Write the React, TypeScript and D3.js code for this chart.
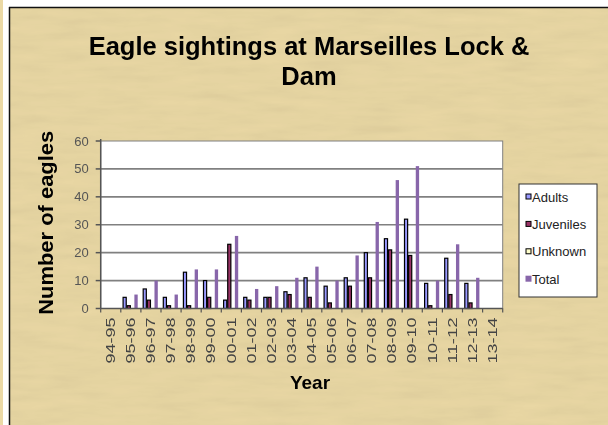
import React from "react";
import * as d3 from "d3";

// season labels along the x axis
const years = [
  "94-95", "95-96", "96-97", "97-98", "98-99", "99-00", "00-01", "01-02", "02-03", "03-04",
  "04-05", "05-06", "06-07", "07-08", "08-09", "09-10", "10-11", "11-12", "12-13", "13-14",
];

const adults = [0, 4, 7, 4, 13, 10, 3, 4, 4, 6, 11, 8, 11, 20, 25, 32, 9, 18, 9, 0];
const juveniles = [0, 1, 3, 1, 1, 4, 23, 3, 4, 5, 4, 2, 8, 11, 21, 19, 1, 5, 2, 0];
const unknown = [0, 0, 0, 0, 0, 0, 0, 0, 0, 0, 0, 0, 0, 0, 0, 0, 0, 0, 0, 0];
const total = [0, 5, 10, 5, 14, 14, 26, 7, 8, 11, 15, 10, 19, 31, 46, 51, 10, 23, 11, 0];

const yTicks = [0, 10, 20, 30, 40, 50, 60];

const seriesNames = ["Adults", "Juveniles", "Unknown", "Total"];
const seriesData = [adults, juveniles, unknown, total];
const seriesFill = ["#9999ff", "#993366", "#ffffcc", "#8866aa"];
const seriesBorder = [true, true, true, false];

const W = 608;
const H = 425;
const plot = { left: 100.7, right: 502.7, top: 141, bottom: 308.5 };
const font = "Arial, 'Liberation Sans', sans-serif";
const paper = "#ebd9a5";

export default function App() {
  const x0 = d3.scaleBand().domain(years).range([plot.left, plot.right]);
  const bw = x0.bandwidth();
  const x1 = d3.scaleBand().domain(seriesNames).range([1.8, bw - 1.8]);
  const y = d3.scaleLinear().domain([0, 60]).range([plot.bottom, plot.top]);

  return (
    <div style={{ position: "absolute", left: 0, top: 0 }}>
      <svg width={W} height={H} style={{ display: "block" }}>
        <defs>
          <filter id="paper" x="0" y="0" width="100%" height="100%">
            <feTurbulence type="fractalNoise" baseFrequency="0.02 0.12" numOctaves="3" seed="7" />
            <feColorMatrix type="saturate" values="0" />
            <feComponentTransfer>
              <feFuncA type="linear" slope="0" intercept="1" />
            </feComponentTransfer>
          </filter>
        </defs>
        <rect x={0} y={0} width={W} height={H} fill="#ffffff" />
        <rect x={0} y={0} width={3} height={H} fill={paper} />
        <rect x={9} y={7} width={W - 9} height={H - 7} fill={paper} />
        <rect
          x={9}
          y={7}
          width={W - 9}
          height={H - 7}
          filter="url(#paper)"
          opacity={0.1}
          style={{ mixBlendMode: "multiply" }}
        />
        <line x1={9.5} y1={7} x2={9.5} y2={H} stroke="#111" strokeWidth={1.5} />
        <line x1={9} y1={7.5} x2={W} y2={7.5} stroke="#111" strokeWidth={1.5} />

        {/* title */}
        <text x={309} y={55} textAnchor="middle" fontFamily={font} fontWeight="bold" fontSize={25.5} fill="#000">
          Eagle sightings at Marseilles Lock &amp;
        </text>
        <text x={309} y={85} textAnchor="middle" fontFamily={font} fontWeight="bold" fontSize={25.5} fill="#000">
          Dam
        </text>

        {/* plot area */}
        <rect
          x={plot.left}
          y={plot.top}
          width={plot.right - plot.left}
          height={plot.bottom - plot.top}
          fill="#ffffff"
          stroke="#808080"
          strokeWidth={1}
        />
        {yTicks.slice(1, -1).map((t) => (
          <line key={t} x1={plot.left} x2={plot.right} y1={y(t)} y2={y(t)} stroke="#808080" strokeWidth={1.6} />
        ))}

        {/* bars */}
        {years.map((yr, i) => (
          <g key={yr} transform={`translate(${x0(yr)},0)`}>
            {seriesNames.map((s, j) => {
              const v = seriesData[j][i];
              if (!v) return null;
              const bx = x1(s)!;
              const w = x1.bandwidth();
              return seriesBorder[j] ? (
                <rect
                  key={s}
                  x={bx + 0.5}
                  y={y(v)}
                  width={w - 1}
                  height={y(0) - y(v)}
                  fill={seriesFill[j]}
                  stroke="#000"
                  strokeWidth={1.2}
                />
              ) : (
                <rect key={s} x={bx - 0.6} y={y(v)} width={w - 0.8} height={y(0) - y(v)} fill={seriesFill[j]} />
              );
            })}
          </g>
        ))}

        {/* y axis */}
        <line x1={plot.left} x2={plot.left} y1={plot.top - 2} y2={plot.bottom} stroke="#555" strokeWidth={1.5} />
        {yTicks.map((t) => (
          <g key={t}>
            <line x1={plot.left - 5} x2={plot.left} y1={y(t)} y2={y(t)} stroke="#555" strokeWidth={1.5} />
            <text
              x={plot.left - 12}
              y={y(t)}
              dy="0.35em"
              textAnchor="end"
              fontFamily={font}
              fontSize={13}
              fill="#555"
            >
              {t}
            </text>
          </g>
        ))}

        {/* x axis */}
        <line x1={plot.left} x2={plot.right} y1={plot.bottom} y2={plot.bottom} stroke="#555" strokeWidth={1.5} />
        {d3.range(years.length + 1).map((k) => {
          const tx = plot.left + k * bw;
          return <line key={k} x1={tx} x2={tx} y1={plot.bottom} y2={plot.bottom + 4} stroke="#555" strokeWidth={1.2} />;
        })}
        {years.map((yr) => {
          const cx = x0(yr)! + bw / 2;
          return (
            <text
              key={yr}
              transform={`translate(${cx},${plot.bottom + 9}) rotate(-90)`}
              dy="0.35em"
              textAnchor="end"
              fontFamily={font}
              fontSize={12}
              textLength={46}
              lengthAdjust="spacingAndGlyphs"
              fill="#444"
            >
              {yr}
            </text>
          );
        })}

        {/* axis titles */}
        <text x={310} y={389} textAnchor="middle" fontFamily={font} fontWeight="bold" fontSize={19} fill="#000">
          Year
        </text>
        <text
          transform={`translate(53,${(plot.top + plot.bottom) / 2 - 2}) rotate(-90)`}
          textAnchor="middle"
          fontFamily={font}
          fontWeight="bold"
          fontSize={21}
          textLength={184}
          lengthAdjust="spacingAndGlyphs"
          fill="#000"
        >
          Number of eagles
        </text>

        {/* legend */}
        <rect x={519} y={184} width={78} height={113} fill="#ffffff" stroke="#333" strokeWidth={1} />
        {seriesNames.map((s, j) => {
          const ly = 197 + j * 27.4;
          return (
            <g key={s}>
              {seriesBorder[j] ? (
                <rect x={526} y={ly - 3} width={5} height={5} fill={seriesFill[j]} stroke="#000" strokeWidth={1} />
              ) : (
                <rect x={525.5} y={ly - 3.5} width={6} height={6} fill={seriesFill[j]} />
              )}
              <text x={532} y={ly} dy="0.35em" fontFamily={font} fontSize={13} fill="#222">
                {s}
              </text>
            </g>
          );
        })}
      </svg>
    </div>
  );
}
